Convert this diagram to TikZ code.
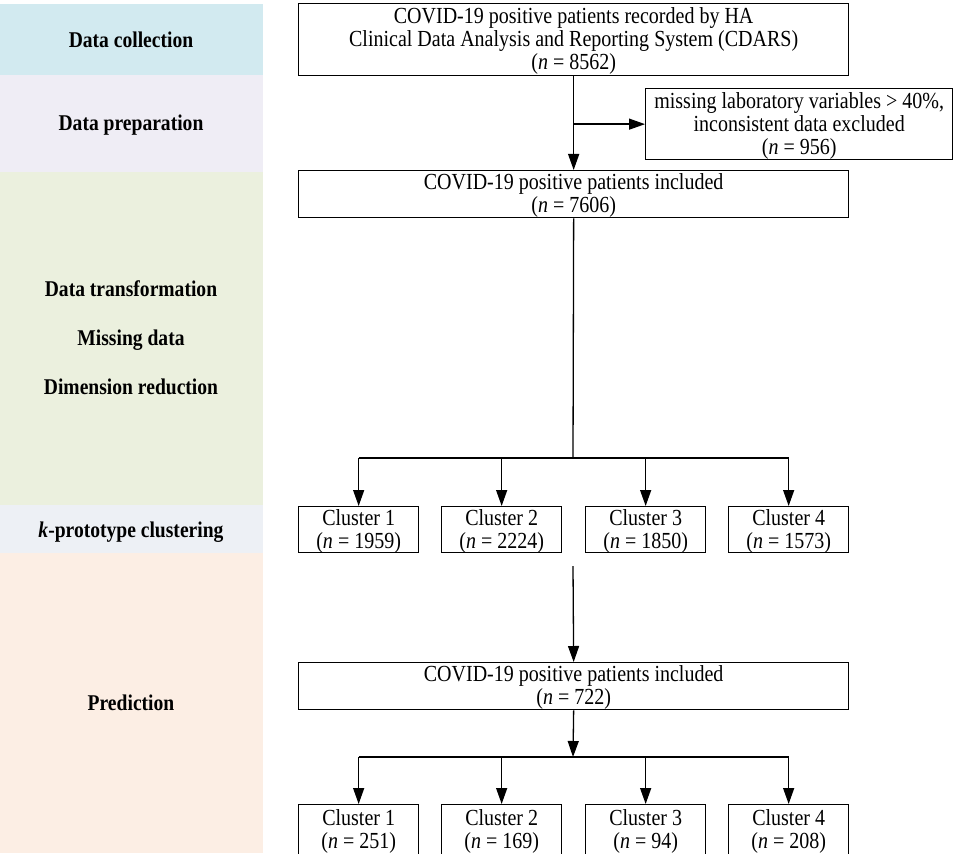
\documentclass[tikz,border=0pt]{standalone}
\usepackage{fontspec}
\setmainfont{Liberation Serif}
\usetikzlibrary{arrows.meta}
\definecolor{bandA}{RGB}{210,234,240}
\definecolor{bandB}{RGB}{239,237,245}
\definecolor{bandC}{RGB}{235,240,222}
\definecolor{bandD}{RGB}{237,240,245}
\definecolor{bandE}{RGB}{252,238,228}
\newcommand\narrowtext[1]{\raisebox{-2.7pt}[\height][\depth]{\scalebox{0.87}[1]{\begin{tabular}{@{}c@{}}#1\end{tabular}}}}
\begin{document}
\begin{tikzpicture}[x=1pt,y=-1pt,
  box/.style={draw, line width=1.3pt, inner sep=0pt, align=center, anchor=north west,
    font=\fontsize{23}{23}\selectfont},
  lab/.style={font=\bfseries\fontsize{22.5}{23}\selectfont},
  arr/.style={-{Triangle[length=16pt,width=11pt]}, line width=1.3pt},
  ln/.style={line width=1.3pt}]
\useasboundingbox (0,0) rectangle (957,853);
% left bands
\fill[bandA] (0,4) rectangle (263,75);
\fill[bandB] (0,75) rectangle (263,172);
\fill[bandC] (0,172) rectangle (263,505);
\fill[bandD] (0,505) rectangle (263,553);
\fill[bandE] (0,553) rectangle (263,853);
\node[lab] (l1) at (131,40) {\narrowtext{Data collection}};
\node[lab] (l2) at (131,123) {\narrowtext{Data preparation}};
\node[lab] (l3) at (131,289) {\narrowtext{Data transformation}};
\node[lab] (l4) at (131,338) {\narrowtext{Missing data}};
\node[lab] (l5) at (131,387) {\narrowtext{Dimension reduction}};
\node[lab] (l6) at (131,530) {\narrowtext{\textit{k}-prototype clustering}};
\node[lab] (l7) at (131,703) {\narrowtext{Prediction}};
% boxes
\node[box, minimum width=550pt, minimum height=72pt] (top) at (298,3)
  {\narrowtext{COVID-19 positive patients recorded by HA\\Clinical Data Analysis and Reporting System (CDARS)\\(\textit{n} = 8562)}};
\node[box, minimum width=307pt, minimum height=71pt] (excl) at (645,88)
  {\narrowtext{missing laboratory variables > 40\%,\\inconsistent data excluded\\(\textit{n} = 956)}};
\node[box, minimum width=550pt, minimum height=47pt] (inc1) at (298,170)
  {\narrowtext{COVID-19 positive patients included\\(\textit{n} = 7606)}};
\node[box, minimum width=120pt, minimum height=45pt] (c11) at (298,506) {\narrowtext{Cluster 1\\(\textit{n} = 1959)}};
\node[box, minimum width=120pt, minimum height=45pt] (c12) at (441,506) {\narrowtext{Cluster 2\\(\textit{n} = 2224)}};
\node[box, minimum width=120pt, minimum height=45pt] (c13) at (585,506) {\narrowtext{Cluster 3\\(\textit{n} = 1850)}};
\node[box, minimum width=120pt, minimum height=45pt] (c14) at (728,506) {\narrowtext{Cluster 4\\(\textit{n} = 1573)}};
\node[box, minimum width=550pt, minimum height=47pt] (inc2) at (298,662)
  {\narrowtext{COVID-19 positive patients included\\(\textit{n} = 722)}};
\node[box, minimum width=120pt, minimum height=49.5pt] (c21) at (298,804) {\narrowtext{Cluster 1\\(\textit{n} = 251)}};
\node[box, minimum width=120pt, minimum height=49.5pt] (c22) at (441,804) {\narrowtext{Cluster 2\\(\textit{n} = 169)}};
\node[box, minimum width=120pt, minimum height=49.5pt] (c23) at (585,804) {\narrowtext{Cluster 3\\(\textit{n} = 94)}};
\node[box, minimum width=120pt, minimum height=49.5pt] (c24) at (728,804) {\narrowtext{Cluster 4\\(\textit{n} = 208)}};
% connectors
\draw[arr] (top.south) -- (inc1.north);
\coordinate (s) at (top.south |- excl.west);
\draw[arr] (s) -- (excl.west);
\coordinate (j1) at (573,458);
\draw[ln] (inc1.south) -- (j1);
\draw[ln] (j1 -| c11.north) -- (j1 -| c14.north);
\foreach \i in {1,2,3,4} \draw[arr] (j1 -| c1\i.north) -- (c1\i.north);
\coordinate (m) at (573,566);
\draw[arr] (m) -- (inc2.north);
\coordinate (j2) at (573,757);
\draw[arr] (inc2.south) -- (j2);
\draw[ln] (j2 -| c21.north) -- (j2 -| c24.north);
\foreach \i in {1,2,3,4} \draw[arr] (j2 -| c2\i.north) -- (c2\i.north);
\end{tikzpicture}
\end{document}
